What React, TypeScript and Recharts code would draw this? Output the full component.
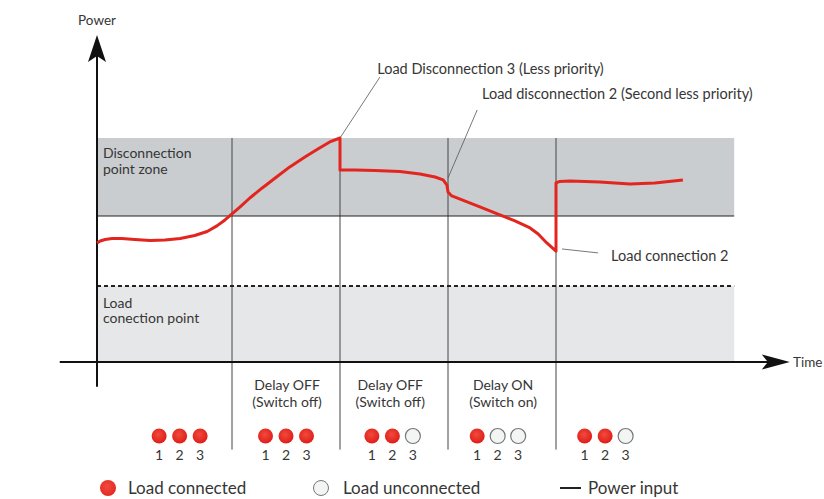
import React from 'react';
import {
  ComposedChart,
  Line,
  XAxis,
  YAxis,
  ReferenceArea,
  ReferenceLine,
  ReferenceDot,
} from 'recharts';

// power input over time (t = time units, p = power units, set point = 100)
const powerTime = [0, 0.6, 1.5, 2.8, 4.6, 7.0, 9.8, 12.6, 15.4, 18.1, 20.4, 22.2, 23.7, 25.0, 26.5, 28.3, 30.6, 33.0, 35.7, 38.5, 40.9, 43.1, 45.0, 45.0, 47.8, 51.5, 56.1, 59.8, 62.6, 64.1, 64.8, 65.0, 65.7, 67.6, 70.9, 74.6, 77.4, 80.2, 81.7, 83.3, 85.0, 85.0, 85.6, 87.6, 93.1, 98.7, 103.3, 108.5];
const powerValue = [81.5, 82.9, 83.9, 84.6, 84.6, 83.9, 83.2, 83.6, 84.6, 86.6, 89.4, 93.2, 97.3, 101.4, 106.2, 112.3, 119.2, 126.0, 133.6, 140.4, 145.9, 150.7, 153.4, 131.5, 131.5, 131.2, 130.5, 128.8, 126.7, 124.7, 121.2, 116.4, 113.7, 111.0, 106.2, 100.7, 96.6, 91.8, 87.7, 81.5, 76.0, 122.6, 123.6, 124.0, 123.3, 121.9, 122.6, 124.7];

const setPoint = 100;
const hysteresis = 52;
const zoneTop = 153.4;
const zoneEnd = 118;
const phaseBounds = [25, 45, 65, 85];

const groupCenters = [15.3, 35.0, 54.7, 74.2, 94.1];
const loadStates = [
  [true, true, true],
  [true, true, true],
  [true, true, false],
  [true, false, false],
  [true, true, false],
];
const delayLabels = [
  { at: 35.2, lines: ['Delay OFF', '(Switch off)'] },
  { at: 54.3, lines: ['Delay OFF', '(Switch off)'] },
  { at: 75.2, lines: ['Delay ON', '(Switch on)'] },
];

const callouts = [
  { from: [45, zoneTop], to: [52.4, 195.2], text: 'Load Disconnection 3 (Less priority)', at: [51.9, 200.7] },
  { from: [65, 126], to: [70.4, 172.6], text: 'Load disconnection 2 (Second less priority)', at: [71.3, 183.6] },
  { from: [86.1, 77.4], to: [92.8, 74.7], text: 'Load connection 2', at: [95.2, 72.6] },
];

const powerData = powerTime.map((t, i) => ({ t, p: powerValue[i] }));

const FONT = 'Lato, "DejaVu Sans", sans-serif';
const INK = '#363636';
const RED = '#e3251f';

const textShape = (lines: string[], anchor: 'start' | 'middle' | 'end', size = 13, gap = 16) => (props: any) => (
  <g>
    {lines.map((l, i) => (
      <text
        key={i}
        x={props.cx}
        y={props.cy + i * gap}
        textAnchor={anchor}
        dominantBaseline="central"
        fontFamily={FONT}
        fontSize={size}
        fill={INK}
      >
        {l}
      </text>
    ))}
  </g>
);

const loadGroup = (states: boolean[]) => (props: any) => (
  <g>
    {states.map((on, i) => {
      const x = props.cx + (i - 1) * 20.5;
      return (
        <g key={i}>
          <circle
            cx={x}
            cy={props.cy}
            r={7.5}
            fill={on ? 'url(#ledOn)' : '#f3f4f4'}
            stroke={on ? 'none' : '#777'}
            strokeWidth={1.2}
          />
          <text x={x} y={props.cy + 18} textAnchor="middle" dominantBaseline="central" fontFamily={FONT} fontSize={14} fill={INK}>
            {i + 1}
          </text>
        </g>
      );
    })}
  </g>
);

const arrowUp = (props: any) => (
  <polygon
    points={`${props.cx},${props.cy} ${props.cx + 9},${props.cy + 27} ${props.cx},${props.cy + 21} ${props.cx - 9},${props.cy + 27}`}
    fill="#111"
  />
);

const arrowRight = (props: any) => (
  <polygon
    points={`${props.cx},${props.cy} ${props.cx - 28},${props.cy - 7.5} ${props.cx - 22},${props.cy} ${props.cx - 28},${props.cy + 7.5}`}
    fill="#111"
  />
);

const YTick = (props: any) => {
  const { x, y, payload } = props;
  const lines = payload.value === setPoint ? ['Set Point'] : ['Set Point', 'Hysteresis'];
  const start = lines.length === 1 ? y : y - 9;
  return (
    <g>
      {lines.map((l, i) => (
        <text key={i} x={x + 18} y={start + i * 17} textAnchor="end" dominantBaseline="central" fontFamily={FONT} fontSize={13} fill={INK}>
          {l}
        </text>
      ))}
    </g>
  );
};

export default function App() {
  return (
    <div style={{ position: 'fixed', left: 0, top: 0, width: 824, height: 499, overflow: 'hidden', background: '#fff' }}>
      <ComposedChart width={824} height={470} margin={{ top: 32, right: 30.4, bottom: 20.4, left: 59.2 }}>
        <defs>
          <radialGradient id="ledOn" cx="45%" cy="40%" r="60%">
            <stop offset="0%" stopColor="#f04a3e" />
            <stop offset="100%" stopColor="#e01d17" />
          </radialGradient>
        </defs>
        <XAxis type="number" dataKey="t" domain={[-7, 129]} allowDataOverflow hide />
        <YAxis
          type="number"
          domain={[-60, 226]}
          allowDataOverflow
          ticks={[hysteresis, setPoint]}
          width={0}
          axisLine={false}
          tickLine={false}
          tickSize={0}
          tickMargin={0}
          tick={<YTick />}
        />

        <ReferenceArea x1={0} x2={zoneEnd} y1={setPoint} y2={zoneTop} fill="#c9cdcf" fillOpacity={1} stroke="none" />
        <ReferenceArea x1={0} x2={zoneEnd} y1={0} y2={hysteresis} fill="#e6e7e8" fillOpacity={1} stroke="none" />

        {phaseBounds.map((b) => (
          <ReferenceLine key={b} segment={[{ x: b, y: zoneTop }, { x: b, y: -60 }]} stroke="#444" strokeWidth={1} />
        ))}

        <ReferenceLine segment={[{ x: 0, y: setPoint }, { x: zoneEnd, y: setPoint }]} stroke="#222" strokeWidth={1.2} />
        <ReferenceLine segment={[{ x: 0, y: hysteresis }, { x: zoneEnd, y: hysteresis }]} stroke="#222" strokeWidth={2} strokeDasharray="4 3" />

        {/* axes */}
        <ReferenceLine segment={[{ x: 0, y: -17 }, { x: 0, y: 210 }]} stroke="#111" strokeWidth={2} ifOverflow="visible" />
        <ReferenceLine segment={[{ x: -6.9, y: 0 }, { x: 124.5, y: 0 }]} stroke="#111" strokeWidth={2} ifOverflow="visible" />
        <ReferenceDot x={0} y={224} r={0} shape={arrowUp} ifOverflow="visible" />
        <ReferenceDot x={128.3} y={0} r={0} shape={arrowRight} ifOverflow="visible" />
        <ReferenceDot x={-3.5} y={234} r={0} shape={textShape(['Power'], 'start', 13.5)} ifOverflow="visible" />
        <ReferenceDot x={128.9} y={0} r={0} shape={textShape(['Time'], 'start', 13.5)} ifOverflow="visible" />

        <ReferenceDot x={1.1} y={143.2} r={0} shape={textShape(['Disconnection', 'point zone'], 'start', 14, 15.5)} />
        <ReferenceDot x={1.1} y={41} r={0} shape={textShape(['Load', 'conection point'], 'start', 14, 15.5)} />

        {callouts.map((c) => (
          <ReferenceLine
            key={c.text}
            segment={[{ x: c.from[0], y: c.from[1] }, { x: c.to[0], y: c.to[1] }]}
            stroke="#555"
            strokeWidth={0.8}
          />
        ))}
        {callouts.map((c) => (
          <ReferenceDot key={c.text} x={c.at[0]} y={c.at[1]} r={0} shape={textShape([c.text], 'start', 14.5)} ifOverflow="visible" />
        ))}

        {delayLabels.map((d, i) => (
          <ReferenceDot key={i} x={d.at} y={-15.1} r={0} shape={textShape(d.lines, 'middle', 14, 17)} />
        ))}
        {groupCenters.map((c, i) => (
          <ReferenceDot key={i} x={c} y={-50.7} r={0} shape={loadGroup(loadStates[i])} />
        ))}

        <Line
          data={powerData}
          dataKey="p"
          type="linear"
          stroke={RED}
          strokeWidth={3}
          strokeLinejoin="round"
          dot={false}
          activeDot={false}
          isAnimationActive={false}
        />
      </ComposedChart>

      <div style={{ position: 'absolute', top: 478, left: 0, width: 824, height: 20, fontFamily: FONT, fontSize: 17, color: INK, lineHeight: '20px' }}>
        <span style={{ position: 'absolute', left: 100, top: 2, width: 16, height: 16, borderRadius: '50%', background: 'radial-gradient(circle at 45% 40%, #f04a3e, #e01d17)' }} />
        <span style={{ position: 'absolute', left: 128 }}>Load connected</span>
        <span style={{ position: 'absolute', left: 313, top: 2, width: 14, height: 14, borderRadius: '50%', background: '#f3f4f4', border: '1px solid #777' }} />
        <span style={{ position: 'absolute', left: 343 }}>Load unconnected</span>
        <span style={{ position: 'absolute', left: 560, top: 9, width: 21, height: 2, background: '#222' }} />
        <span style={{ position: 'absolute', left: 588 }}>Power input</span>
      </div>
    </div>
  );
}
